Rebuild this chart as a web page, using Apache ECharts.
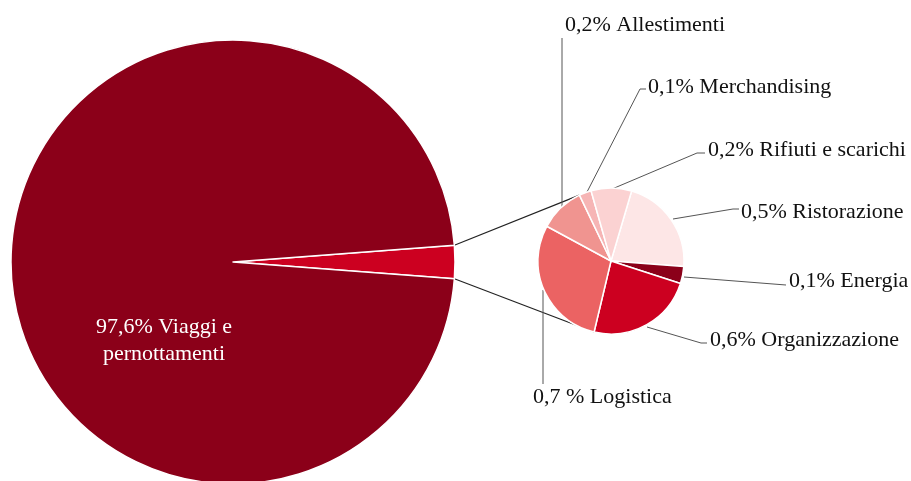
<!DOCTYPE html>
<html>
<head>
<meta charset="utf-8">
<script src="https://cdn.jsdelivr.net/npm/echarts@6/dist/echarts.min.js"></script>
<style>
html,body{margin:0;padding:0;background:#fff;}
#chart{width:911px;height:481px;}
</style>
</head>
<body>
<div id="chart"></div>
<script>
// ---- data ----
const bigCats = ['Altro', 'Viaggi e pernottamenti'];
const viaggiValue = 97.6;
const bigLabelText = '97,6% Viaggi e\npernottamenti';

const smallCats = ['Ristorazione', 'Energia', 'Organizzazione', 'Logistica', 'Allestimenti', 'Merchandising', 'Rifiuti e scarichi'];
const smallValues = [0.52, 0.09, 0.57, 0.70, 0.24, 0.065, 0.215];
const smallLabels = ['0,5% Ristorazione', '0,1% Energia', '0,6% Organizzazione', '0,7 % Logistica', '0,2% Allestimenti', '0,1% Merchandising', '0,2% Rifiuti e scarichi'];

// ---- styles / layout ----
const smallColors = ['#FDE6E6', '#8B0019', '#CC0020', '#EB6363', '#F09490', '#F6B5B5', '#FBD2D2'];
const bigColors = ['#CC0020', '#8B0019'];
const FONT = '"Liberation Serif", serif';
const FS = 22;
const bigC = [233, 262], bigR = 222;
const smC = [611, 261], smR = 73;
const smStart = 73.6;
// label anchor positions (text x,y) and leader points
const smallLabelLayout = [
  { x: 741, y: 212, align: 'left', line: [[673, 219], [733, 209], [739, 209]] },
  { x: 789, y: 281, align: 'left', line: [[684, 277], [786, 285], [786, 285]] },
  { x: 710, y: 340, align: 'left', line: [[647, 327], [701, 343], [707, 343]] },
  { x: 533, y: 397, align: 'left', line: [[543, 290], [543, 384], [543, 384]] },
  { x: 565, y: 25, align: 'left', line: [[562, 214], [562, 38], [562, 38]] },
  { x: 648, y: 87, align: 'left', line: [[587, 192], [640, 89], [646, 89]] },
  { x: 708, y: 150, align: 'left', line: [[612, 189], [697, 153], [705, 153]] }
];

const otherValue = smallValues.reduce((a, b) => a + b, 0);
const total = otherValue + viaggiValue;
const bigStart = 360 * otherValue / total / 2;

// connector lines computed from geometry
function pt(c, r, deg) {
  const a = deg * Math.PI / 180;
  return [c[0] + r * Math.cos(a), c[1] - r * Math.sin(a)];
}
const smTotal = otherValue;
let cum = 0;
const bounds = [];
for (let i = 0; i < smallValues.length; i++) { bounds.push(smStart - 360 * cum / smTotal); cum += smallValues[i]; }
const topBig = pt(bigC, bigR, bigStart);
const botBig = pt(bigC, bigR, -bigStart);
const topSm = pt(smC, smR, bounds[5]); // between Allestimenti & Merchandising
const botSm = pt(smC, smR, bounds[3]); // between Organizzazione & Logistica

const chart = echarts.init(document.getElementById('chart'), null, { renderer: 'canvas' });
chart.setOption({
  backgroundColor: '#fff',
  animation: false,
  textStyle: { fontFamily: FONT },
  graphic: [
    { type: 'line', z: 0, shape: { x1: topBig[0], y1: topBig[1], x2: topSm[0], y2: topSm[1] }, style: { stroke: '#222', lineWidth: 1.2 } },
    { type: 'line', z: 0, shape: { x1: botBig[0], y1: botBig[1], x2: botSm[0], y2: botSm[1] }, style: { stroke: '#222', lineWidth: 1.2 } }
  ],
  series: [
    {
      type: 'pie', z: 2,
      center: bigC, radius: bigR,
      startAngle: bigStart, clockwise: true,
      silent: true,
      itemStyle: { borderColor: '#fff', borderWidth: 1.5 },
      label: { show: false },
      labelLine: { show: false },
      data: [
        { name: bigCats[0], value: otherValue, itemStyle: { color: bigColors[0] } },
        { name: bigCats[1], value: viaggiValue, itemStyle: { color: bigColors[1] },
          label: { show: true, position: 'inside', formatter: bigLabelText, color: '#fff', fontFamily: FONT, fontSize: FS, lineHeight: 27, align: 'center' } }
      ],
      labelLayout: function (p) {
        if (p.dataIndex === 1) return { x: 164, y: 341, align: 'center', verticalAlign: 'middle' };
        return {};
      }
    },
    {
      type: 'pie', z: 2,
      center: smC, radius: smR,
      startAngle: smStart, clockwise: true,
      silent: true,
      itemStyle: { borderColor: '#fff', borderWidth: 1.5 },
      label: { show: true, position: 'outside', color: '#111', fontFamily: FONT, fontSize: FS, formatter: function (p) { return smallLabels[p.dataIndex]; } },
      labelLine: { show: true, lineStyle: { color: '#555', width: 1 } },
      data: smallCats.map((n, i) => ({ name: n, value: smallValues[i], itemStyle: { color: smallColors[i] } })),
      labelLayout: function (p) {
        const l = smallLabelLayout[p.dataIndex];
        return { x: l.x, y: l.y, align: l.align, verticalAlign: 'middle', labelLinePoints: l.line };
      }
    }
  ]
});
</script>
</body>
</html>
